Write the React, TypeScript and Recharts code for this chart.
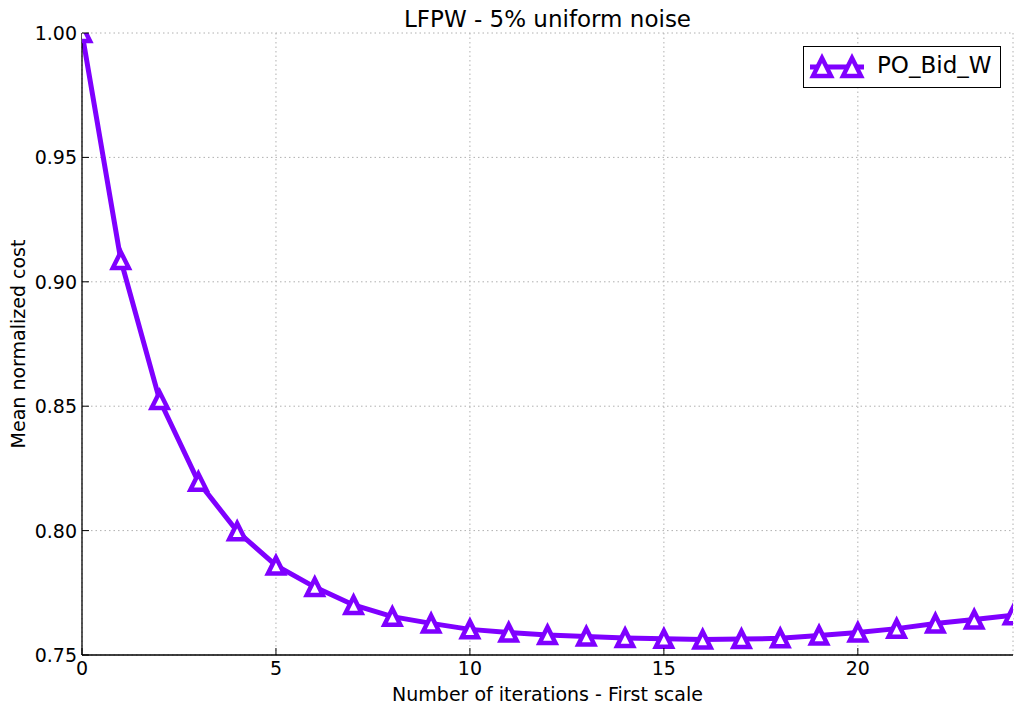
import React from 'react';
import { LineChart, Line, XAxis, YAxis, CartesianGrid, Legend } from 'recharts';

const iterations = [0, 1, 2, 3, 4, 5, 6, 7, 8, 9, 10, 11, 12, 13, 14, 15, 16, 17, 18, 19, 20, 21, 22, 23, 24];
const costValues = [
  1.0, 0.9088, 0.8525, 0.8196, 0.7997, 0.786, 0.7773, 0.7701, 0.7654, 0.7627,
  0.7603, 0.759, 0.758, 0.7574, 0.7568, 0.7565, 0.7562, 0.7564, 0.7567, 0.7578,
  0.759, 0.7606, 0.7627, 0.7643, 0.766,
];
const xTicks = [0, 5, 10, 15, 20];
const yTicks = [0.75, 0.8, 0.85, 0.9, 0.95, 1.0];
const seriesName = 'PO_Bid_W';
const titleText = 'LFPW - 5% uniform noise';
const xLabelText = 'Number of iterations - First scale';
const yLabelText = 'Mean normalized cost';

const data = iterations.map((it, i) => ({ it, cost: costValues[i] }));

const FONT = '"DejaVu Sans", sans-serif';
const COLOR = '#7f00ff';
const TICK_LEN = 7;

const triPath = (cx: number, cy: number, s: number) =>
  `M${cx},${cy - s} L${cx + s},${cy + s} L${cx - s},${cy + s} Z`;

const BottomTick = (props: any) => {
  const { x, y, payload } = props;
  return (
    <g>
      <line x1={x} x2={x} y1={y} y2={y - TICK_LEN} stroke="#000" strokeWidth={1} />
      <text x={x} y={y + 20} textAnchor="middle" fontSize={19} fontFamily={FONT} fill="#000">
        {payload.value}
      </text>
    </g>
  );
};

const TopTick = (props: any) => {
  const { x, y } = props;
  return <line x1={x} x2={x} y1={y} y2={y + TICK_LEN} stroke="#000" strokeWidth={1} />;
};

const LeftTick = (props: any) => {
  const { x, y, payload } = props;
  return (
    <g>
      <line x1={x} x2={x + TICK_LEN} y1={y} y2={y} stroke="#000" strokeWidth={1} />
      <text x={x - 5} y={y + 7} textAnchor="end" fontSize={19} fontFamily={FONT} fill="#000">
        {Number(payload.value).toFixed(2)}
      </text>
    </g>
  );
};

const RightTick = (props: any) => {
  const { x, y } = props;
  return <line x1={x} x2={x - TICK_LEN} y1={y} y2={y} stroke="#000" strokeWidth={1} />;
};

const TriangleDot = (props: any) => {
  const { cx, cy, index } = props;
  if (cx == null || cy == null) return <g key={`d-${index}`} />;
  return (
    <path
      key={`d-${index}`}
      d={triPath(cx, cy, 8)}
      fill="#fff"
      stroke={COLOR}
      strokeWidth={4.5}
      strokeLinejoin="miter"
    />
  );
};

const XLabel = (props: any) => {
  const vb = props.viewBox || { x: 82, y: 655, width: 931, height: 60 };
  return (
    <text x={vb.x + vb.width / 2} y={701} textAnchor="middle" fontSize={19} fontFamily={FONT} fill="#000">
      {xLabelText}
    </text>
  );
};

const YLabel = () => (
  <text
    x={25}
    y={344}
    transform="rotate(-90, 25, 344)"
    textAnchor="middle"
    fontSize={19}
    fontFamily={FONT}
    fill="#000"
  >
    {yLabelText}
  </text>
);

const LegendBox = (props: any) => {
  const item = props.payload && props.payload[0];
  const name = item ? item.value : seriesName;
  const color = item ? item.color : COLOR;
  return (
    <div
      style={{
        position: 'relative',
        width: 198,
        height: 42,
        border: '1px solid #000',
        background: '#fff',
        boxSizing: 'border-box',
      }}
    >
      <svg width={70} height={40} style={{ position: 'absolute', left: 0, top: 0 }}>
        <line x1={6} x2={60} y1={20} y2={20} stroke={color} strokeWidth={5} />
        <path d={triPath(18, 20, 9)} fill="#fff" stroke={color} strokeWidth={4.5} />
        <path d={triPath(48, 20, 9)} fill="#fff" stroke={color} strokeWidth={4.5} />
      </svg>
      <span
        style={{
          position: 'absolute',
          left: 73,
          top: 7,
          fontSize: 23,
          lineHeight: '23px',
          fontFamily: FONT,
          color: '#000',
          whiteSpace: 'nowrap',
        }}
      >
        {name}
      </span>
    </div>
  );
};

export default function App() {
  return (
    <div style={{ position: 'absolute', left: 0, top: 0, width: 1022, height: 715, background: '#fff' }}>
      <div
        style={{
          position: 'absolute',
          left: 82,
          width: 931,
          top: 8,
          textAlign: 'center',
          fontSize: 23,
          lineHeight: '23px',
          fontFamily: FONT,
          color: '#000',
          whiteSpace: 'nowrap',
        }}
      >
        {titleText}
      </div>
      <LineChart width={1022} height={715} data={data} margin={{ top: 33, right: 9, bottom: 0, left: 0 }}>
        <CartesianGrid stroke="#b0b0b0" strokeDasharray="1.5 3" strokeWidth={1} />
        <XAxis
          dataKey="it"
          type="number"
          domain={[0, 24]}
          ticks={xTicks}
          allowDataOverflow
          height={60}
          tickSize={0}
          tickMargin={0}
          tickLine={false}
          axisLine={{ stroke: '#000', strokeWidth: 1.3 }}
          tick={<BottomTick />}
          interval={0}
          label={<XLabel />}
        />
        <XAxis
          xAxisId="top"
          orientation="top"
          dataKey="it"
          type="number"
          domain={[0, 24]}
          ticks={xTicks}
          allowDataOverflow
          height={0}
          tickSize={0}
          tickMargin={0}
          tickLine={false}
          axisLine={{ stroke: '#000', strokeWidth: 1.3 }}
          tick={<TopTick />}
          interval={0}
        />
        <YAxis
          type="number"
          domain={[0.75, 1.0]}
          ticks={yTicks}
          allowDataOverflow
          width={82}
          tickSize={0}
          tickMargin={0}
          tickLine={false}
          axisLine={{ stroke: '#000', strokeWidth: 1.3 }}
          tick={<LeftTick />}
          interval={0}
          label={<YLabel />}
        />
        <YAxis
          yAxisId="right"
          orientation="right"
          type="number"
          domain={[0.75, 1.0]}
          ticks={yTicks}
          allowDataOverflow
          width={0}
          tickSize={0}
          tickMargin={0}
          tickLine={false}
          axisLine={{ stroke: '#000', strokeWidth: 1.3 }}
          tick={<RightTick />}
          interval={0}
        />
        <Legend
          layout="horizontal"
          verticalAlign="middle"
          align="center"
          wrapperStyle={{ top: 46, left: 803, width: 198, height: 42 }}
          content={<LegendBox />}
        />
        <Line
          dataKey="cost"
          name={seriesName}
          stroke={COLOR}
          strokeWidth={5}
          type="linear"
          dot={<TriangleDot />}
          activeDot={false}
          isAnimationActive={false}
        />
      </LineChart>
    </div>
  );
}
